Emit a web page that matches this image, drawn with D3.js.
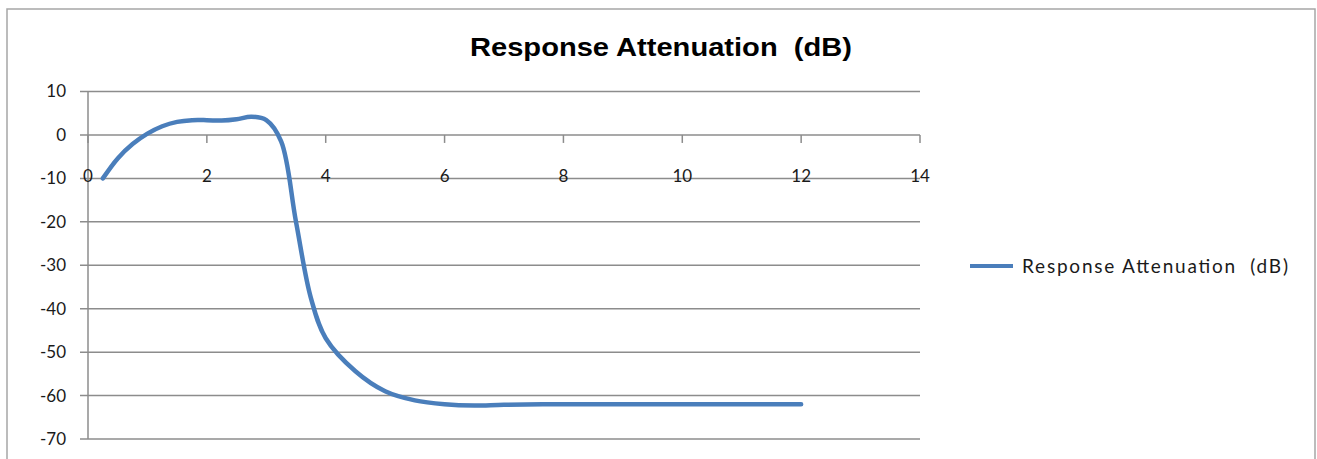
<!DOCTYPE html>
<html>
<head>
<meta charset="utf-8">
<script src="https://cdn.jsdelivr.net/npm/d3@7/dist/d3.min.js"></script>
<style>
html,body{margin:0;padding:0;background:#fff;}
svg{display:block;}
</style>
</head>
<body>
<svg id="chart" width="1317" height="459"></svg>
<script>
const seriesName = "Response Attenuation  (dB)";
const freq = [0.25, 0.5, 0.75, 1, 1.25, 1.5, 1.75, 2, 2.25, 2.5, 2.75, 3, 3.25, 3.5, 3.75, 4, 4.5, 5, 5.5, 6, 6.5, 7, 8, 9, 10, 11, 12];
const attenuation = [-10, -5.4, -2.1, 0.3, 2, 3, 3.4, 3.4, 3.3, 3.6, 4.2, 3.4, -1.5, -20, -37.5, -46.8, -54.4, -59, -61.1, -62, -62.3, -62.1, -62, -62, -62, -62, -62];
const xTicks = [0, 2, 4, 6, 8, 10, 12, 14];
const yTicks = [10, 0, -10, -20, -30, -40, -50, -60, -70];

const svg = d3.select("#chart");

// chart frame
svg.append("rect").attr("x", 7).attr("y", 9).attr("width", 1308).attr("height", 470)
  .attr("fill", "#fff").attr("stroke", "#a6a6a6").attr("stroke-width", 1.5);

const x = d3.scaleLinear().domain([0, 14]).range([88, 920]);
const y = d3.scaleLinear().domain([-70, 10]).range([439, 91.5]);

const labelFont = "Lato, 'Noto Sans', sans-serif";

// gridlines
svg.append("g").selectAll("line").data(yTicks).join("line")
  .attr("x1", x(0) - 8).attr("x2", x(14))
  .attr("y1", d => y(d)).attr("y2", d => y(d))
  .attr("stroke", "#8c8c8c").attr("stroke-width", 1.5);

// y axis line
svg.append("line").attr("x1", x(0)).attr("x2", x(0)).attr("y1", y(10)).attr("y2", y(-70))
  .attr("stroke", "#8c8c8c").attr("stroke-width", 1.5);

// y labels
svg.append("g").selectAll("text").data(yTicks).join("text")
  .attr("x", 66).attr("y", d => y(d)).attr("dy", "0.35em")
  .attr("text-anchor", "end").attr("font-family", labelFont).attr("font-size", 17)
  .attr("fill", "#1a1a1a").text(d => d);

// x tick marks (below the 0 line)
svg.append("g").selectAll("line").data(xTicks).join("line")
  .attr("x1", d => x(d)).attr("x2", d => x(d))
  .attr("y1", y(0)).attr("y2", y(0) + 8)
  .attr("stroke", "#8c8c8c").attr("stroke-width", 1.5);

// x labels
svg.append("g").selectAll("text").data(xTicks).join("text")
  .attr("x", d => x(d)).attr("y", y(-10) - 2).attr("dy", "0.35em")
  .attr("text-anchor", "middle").attr("font-family", labelFont).attr("font-size", 17)
  .attr("fill", "#1a1a1a").text(d => d);

// series line
const data = freq.map((f, i) => ({f, v: attenuation[i]}));
const line = d3.line().x(d => x(d.f)).y(d => y(d.v)).curve(d3.curveCatmullRom.alpha(0.5));
svg.append("path").datum(data).attr("d", line)
  .attr("fill", "none").attr("stroke", "#4a7ebb").attr("stroke-width", 4.5)
  .attr("stroke-linecap", "round").attr("stroke-linejoin", "round");

// title
svg.append("text").attr("x", 661).attr("y", 56).attr("text-anchor", "middle")
  .attr("font-family", "'Liberation Sans', Arial, sans-serif").attr("font-weight", "bold")
  .attr("font-size", 26).attr("fill", "#000")
  .attr("textLength", 382).attr("lengthAdjust", "spacingAndGlyphs")
  .style("white-space", "pre").text(seriesName);

// legend
svg.append("line").attr("x1", 970).attr("x2", 1013).attr("y1", 266).attr("y2", 266)
  .attr("stroke", "#4a7ebb").attr("stroke-width", 4);
svg.append("text").attr("x", 1022).attr("y", 266).attr("dy", "0.35em")
  .attr("font-family", labelFont).attr("font-size", 19).attr("fill", "#1a1a1a")
  .attr("textLength", 266).attr("lengthAdjust", "spacing")
  .style("white-space", "pre").text(seriesName);
</script>
</body>
</html>
